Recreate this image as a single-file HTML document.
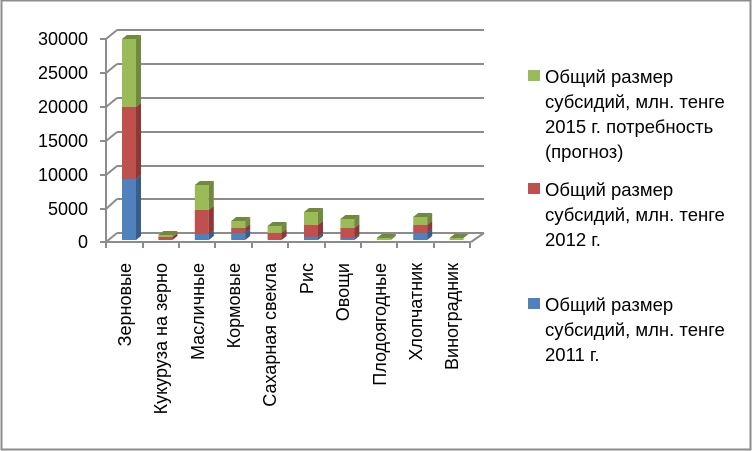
<!DOCTYPE html>
<html><head><meta charset="utf-8"><style>
html,body{margin:0;padding:0;background:#fff;}
svg{display:block;font-family:"Liberation Sans","DejaVu Sans",sans-serif;}
.b{fill:#4f81bd}.bs{fill:#385d8a}.r{fill:#c0504d}.rs{fill:#8c3836}.g{fill:#9bbb59}.gs{fill:#71893f}
</style></head><body>
<svg width="753" height="451" viewBox="0 0 753 451" xmlns="http://www.w3.org/2000/svg">
<rect x="1.5" y="0.5" width="749" height="449" fill="#fff" stroke="#8c8c8c" stroke-width="2"/>
<g stroke="#8c8c8c" stroke-width="2" fill="none">
<line x1="117" y1="30" x2="484" y2="30"/>
<line x1="117" y1="64" x2="484" y2="64"/>
<line x1="117" y1="98" x2="484" y2="98"/>
<line x1="117" y1="132" x2="484" y2="132"/>
<line x1="117" y1="166" x2="484" y2="166"/>
<line x1="117" y1="199" x2="484" y2="199"/>
<line x1="117" y1="233" x2="484" y2="233"/>
<line x1="106" y1="39" x2="117" y2="30"/>
<line x1="106" y1="73" x2="117" y2="64"/>
<line x1="106" y1="107" x2="117" y2="98"/>
<line x1="106" y1="141" x2="117" y2="132"/>
<line x1="106" y1="175" x2="117" y2="166"/>
<line x1="106" y1="209" x2="117" y2="199"/>
<line x1="106" y1="242" x2="117" y2="233"/>
<line x1="106" y1="39" x2="106" y2="243"/>
<line x1="100" y1="39" x2="106" y2="39"/><line x1="100" y1="73" x2="106" y2="73"/><line x1="100" y1="107" x2="106" y2="107"/><line x1="100" y1="141" x2="106" y2="141"/><line x1="100" y1="175" x2="106" y2="175"/><line x1="100" y1="209" x2="106" y2="209"/><line x1="100" y1="242" x2="106" y2="242"/>
<line x1="106" y1="242" x2="471" y2="242"/>
<line x1="471" y1="242" x2="484" y2="233"/>
<line x1="106" y1="242" x2="106" y2="248"/><line x1="143" y1="242" x2="143" y2="248"/><line x1="179" y1="242" x2="179" y2="248"/><line x1="215" y1="242" x2="215" y2="248"/><line x1="252" y1="242" x2="252" y2="248"/><line x1="288" y1="242" x2="288" y2="248"/><line x1="325" y1="242" x2="325" y2="248"/><line x1="361" y1="242" x2="361" y2="248"/><line x1="397" y1="242" x2="397" y2="248"/><line x1="434" y1="242" x2="434" y2="248"/><line x1="470" y1="242" x2="470" y2="248"/>
</g>
<g>
<rect class="b" x="122" y="179" width="14" height="61"/><polygon class="bs" points="136,179 141,175 141,236 136,240"/>
<rect class="r" x="122" y="107" width="14" height="72"/><polygon class="rs" points="136,107 141,103 141,175 136,179"/>
<rect class="g" x="122" y="39" width="14" height="68"/><polygon class="gs" points="136,39 141,35 141,103 136,107"/>
<polygon class="gs" points="122,39 127,35 141,35 136,39"/>

<rect class="r" x="158.4" y="237" width="14" height="3"/><polygon class="rs" points="172.4,237 177.4,233 177.4,236 172.4,240"/>
<rect class="g" x="158.4" y="235" width="14" height="2"/><polygon class="gs" points="172.4,235 177.4,231 177.4,233 172.4,237"/>
<polygon class="gs" points="158.4,235 163.4,231 177.4,231 172.4,235"/>

<rect class="b" x="194.8" y="234" width="14" height="6"/><polygon class="bs" points="208.8,234 213.8,230 213.8,236 208.8,240"/>
<rect class="r" x="194.8" y="210" width="14" height="24"/><polygon class="rs" points="208.8,210 213.8,206 213.8,230 208.8,234"/>
<rect class="g" x="194.8" y="185" width="14" height="25"/><polygon class="gs" points="208.8,185 213.8,181 213.8,206 208.8,210"/>
<polygon class="gs" points="194.8,185 199.8,181 213.8,181 208.8,185"/>

<rect class="b" x="231.2" y="233" width="14" height="7"/><polygon class="bs" points="245.2,233 250.2,229 250.2,236 245.2,240"/>
<rect class="r" x="231.2" y="228" width="14" height="5"/><polygon class="rs" points="245.2,228 250.2,224 250.2,229 245.2,233"/>
<rect class="g" x="231.2" y="221" width="14" height="7"/><polygon class="gs" points="245.2,221 250.2,217 250.2,224 245.2,228"/>
<polygon class="gs" points="231.2,221 236.2,217 250.2,217 245.2,221"/>

<rect class="r" x="267.6" y="233" width="14" height="7"/><polygon class="rs" points="281.6,233 286.6,229 286.6,236 281.6,240"/>
<rect class="g" x="267.6" y="226" width="14" height="7"/><polygon class="gs" points="281.6,226 286.6,222 286.6,229 281.6,233"/>
<polygon class="gs" points="267.6,226 272.6,222 286.6,222 281.6,226"/>

<rect class="b" x="304" y="237" width="14" height="3"/><polygon class="bs" points="318,237 323,233 323,236 318,240"/>
<rect class="r" x="304" y="225" width="14" height="12"/><polygon class="rs" points="318,225 323,221 323,233 318,237"/>
<rect class="g" x="304" y="212" width="14" height="13"/><polygon class="gs" points="318,212 323,208 323,221 318,225"/>
<polygon class="gs" points="304,212 309,208 323,208 318,212"/>

<rect class="b" x="340.4" y="238" width="14" height="2"/><polygon class="bs" points="354.4,238 359.4,234 359.4,236 354.4,240"/>
<rect class="r" x="340.4" y="228" width="14" height="10"/><polygon class="rs" points="354.4,228 359.4,224 359.4,234 354.4,238"/>
<rect class="g" x="340.4" y="219" width="14" height="9"/><polygon class="gs" points="354.4,219 359.4,215 359.4,224 354.4,228"/>
<polygon class="gs" points="340.4,219 345.4,215 359.4,215 354.4,219"/>

<rect class="g" x="376.8" y="238" width="14" height="2"/><polygon class="gs" points="376.8,238 381.8,234 395.8,234 390.8,238"/><polygon class="gs" points="390.8,238 395.8,234 395.8,236 390.8,240"/>

<rect class="b" x="413.2" y="233" width="14" height="7"/><polygon class="bs" points="427.2,233 432.2,229 432.2,236 427.2,240"/>
<rect class="r" x="413.2" y="225" width="14" height="8"/><polygon class="rs" points="427.2,225 432.2,221 432.2,229 427.2,233"/>
<rect class="g" x="413.2" y="217" width="14" height="8"/><polygon class="gs" points="427.2,217 432.2,213 432.2,221 427.2,225"/>
<polygon class="gs" points="413.2,217 418.2,213 432.2,213 427.2,217"/>

<rect class="g" x="449.6" y="238" width="14" height="2"/><polygon class="gs" points="449.6,238 454.6,234 468.6,234 463.6,238"/>
</g>
<g font-size="18" fill="#000" text-anchor="end">
<text x="88" y="45">30000</text><text x="88" y="79">25000</text><text x="88" y="113">20000</text><text x="88" y="147">15000</text><text x="88" y="181">10000</text><text x="88" y="215">5000</text><text x="88" y="248">0</text>
</g>
<g font-size="18" fill="#000" text-anchor="end">
<text transform="translate(131,263) rotate(-90)">Зерновые</text>
<text transform="translate(167,263) rotate(-90)">Кукуруза на зерно</text>
<text transform="translate(204,263) rotate(-90)">Масличные</text>
<text transform="translate(240,263) rotate(-90)">Кормовые</text>
<text transform="translate(276,263) rotate(-90)">Сахарная свекла</text>
<text transform="translate(313,263) rotate(-90)">Рис</text>
<text transform="translate(349,263) rotate(-90)">Овощи</text>
<text transform="translate(386,263) rotate(-90)">Плодоягодные</text>
<text transform="translate(422,263) rotate(-90)">Хлопчатник</text>
<text transform="translate(458,263) rotate(-90)">Виноградник</text>
</g>
<g font-size="18.5" fill="#000">
<rect x="528" y="70" width="12" height="11" fill="#9bbb59"/>
<text x="545" y="83">Общий размер</text><text x="545" y="108">субсидий, млн. тенге</text><text x="545" y="133">2015 г. потребность</text><text x="545" y="158">(прогноз)</text>
<rect x="528" y="183" width="12" height="11" fill="#c0504d"/>
<text x="545" y="196">Общий размер</text><text x="545" y="221">субсидий, млн. тенге</text><text x="545" y="246">2012 г.</text>
<rect x="528" y="298" width="12" height="11" fill="#4f81bd"/>
<text x="545" y="311">Общий размер</text><text x="545" y="336">субсидий, млн. тенге</text><text x="545" y="361">2011 г.</text>
</g>
</svg>
</body></html>
